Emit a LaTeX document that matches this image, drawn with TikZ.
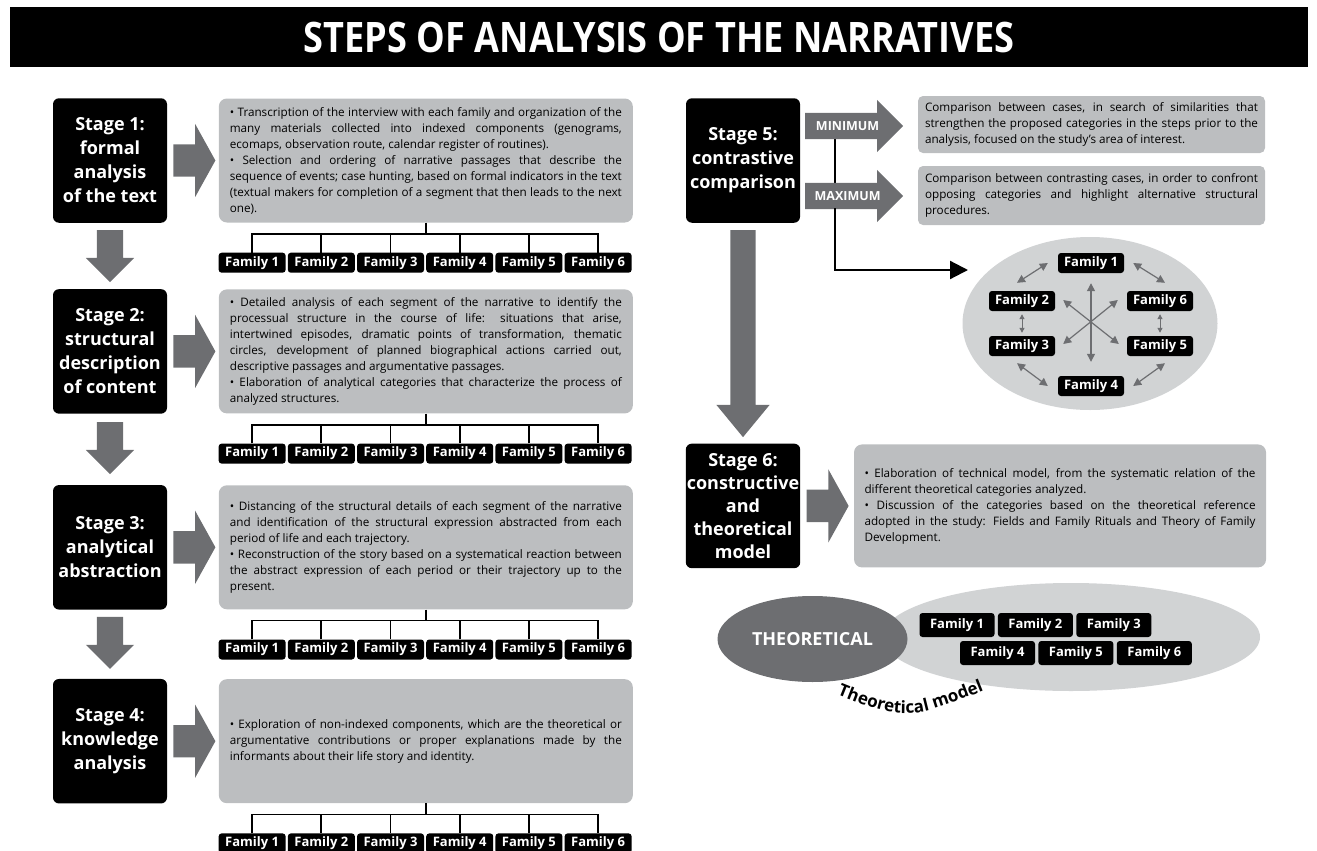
\documentclass[tikz,border=0pt]{standalone}
\usepackage{fontspec}
\setmainfont{Open Sans}
\newfontfamily\titlefont[FakeStretch=0.86]{Open Sans}
\usepackage{xcolor}
\usepackage{tikz}
\usetikzlibrary{positioning,calc,shapes.arrows,shapes.geometric,arrows.meta,decorations.text}
\setlength{\parindent}{0pt}
\hyphenpenalty=10000
\tolerance=9999
\definecolor{arrowgray}{HTML}{6D6E71}
\definecolor{boxgray}{HTML}{BCBEC0}
\definecolor{ringgray}{HTML}{D1D3D4}

\begin{document}
\begin{tikzpicture}[
        x=1pt, y=-1pt,
        every node/.style={font=\fontsize{11.7}{16}\selectfont},
        stagebox/.style={rectangle, fill=black, text=white, rounded corners=6pt, minimum width=114pt, minimum height=124.5pt, inner sep=1pt, align=center, font=\bfseries\fontsize{18}{24}\selectfont},
        textbox/.style={rectangle, fill=boxgray, rounded corners=8pt, minimum height=124pt, text width=392pt, inner xsep=11pt, align=justify},
        fam/.style={rectangle, fill=black, text=white, rounded corners=3pt, minimum width=67pt, minimum height=20pt, inner sep=0pt, font=\bfseries\fontsize{13}{13}\selectfont},
        rarrow/.style={single arrow, fill=arrowgray, inner xsep=0pt, inner ysep=16pt, minimum height=42pt, minimum width=73pt, single arrow head extend=20.5pt, single arrow tip angle=122},
        darrow/.style={single arrow, shape border rotate=270, fill=arrowgray, inner sep=13pt, minimum height=52pt, minimum width=48pt, single arrow head extend=11pt, single arrow tip angle=90},
        sidearrow/.style={single arrow, fill=arrowgray, text=white, text height=9pt, text depth=0pt, inner xsep=7pt, inner ysep=8.5pt, minimum height=98pt, minimum width=52pt, single arrow head extend=13pt, single arrow tip angle=90, font=\bfseries\fontsize{12.5}{12.5}\selectfont},
        tree/.style={line width=1.8pt},
        link/.style={line width=2.2pt, -{Triangle[length=18pt,width=18pt]}},
        famlink/.style={arrowgray, line width=1.2pt, {Triangle[length=8pt,width=8pt]}-{Triangle[length=8pt,width=8pt]}},
        shortlink/.style={arrowgray, line width=1pt, {Triangle[length=5pt,width=5pt]}-{Triangle[length=5pt,width=5pt]}}
    ]
        \useasboundingbox (0,0) rectangle (1317,851);

        % Title
        \node[fill=black, text=white, minimum width=1298pt, minimum height=60pt, font=\titlefont\bfseries\fontsize{42}{42}\selectfont] (title) at (659,37) {STEPS OF ANALYSIS OF THE NARRATIVES};

        % Stages 1-4
        \node[stagebox] (s1) at (110,160.5) {Stage 1:\\formal\\analysis\\of the text};
        \node[darrow, below=7pt of s1] (d1) {};
        \node[stagebox, below=66pt of s1] (s2) {Stage 2:\\structural\\description\\of content};
        \node[darrow, below=8pt of s2] (d2) {};
        \node[stagebox, below=71pt of s2] (s3) {Stage 3:\\analytical\\abstraction};
        \node[darrow, below=7pt of s3] (d3) {};
        \node[stagebox, below=69pt of s3] (s4) {Stage 4:\\knowledge\\analysis};

        % Descriptions
        \node[rarrow, right=6pt of s1] (a1) {};
        \node[textbox, right=3pt of a1] (c1) {\textbullet{} Transcription of the interview with each family and organization of the\linebreak many materials collected into indexed components (genograms,\linebreak ecomaps, observation route, calendar register of routines).\par
            \textbullet{} Selection and ordering of narrative passages that describe the\linebreak sequence of events; case hunting, based on formal indicators in the text\linebreak (textual makers for completion of a segment that then leads to the next\linebreak one).};
        \node[rarrow, right=6pt of s2] (a2) {};
        \node[textbox, right=3pt of a2] (c2) {\textbullet{} Detailed analysis of each segment of the narrative to identify the\linebreak processual structure in the course of life: situations that arise,\linebreak intertwined episodes, dramatic points of transformation, thematic\linebreak circles, development of planned biographical actions carried out,\linebreak descriptive passages and argumentative passages.\par
            \textbullet{} Elaboration of analytical categories that characterize the process of\linebreak analyzed structures.};
        \node[rarrow, right=6pt of s3] (a3) {};
        \node[textbox, right=3pt of a3] (c3) {\textbullet{} Distancing of the structural details of each segment of the narrative\linebreak and identification of the structural expression abstracted from each\linebreak period of life and each trajectory.\par
            \textbullet{} Reconstruction of the story based on a systematical reaction between\linebreak the abstract expression of each period or their trajectory up to the\linebreak present.};
        \node[rarrow, right=6pt of s4] (a4) {};
        \node[textbox, right=3pt of a4] (c4) {\textbullet{} Exploration of non-indexed components, which are the theoretical or\linebreak argumentative contributions or proper explanations made by the\linebreak informants about their life story and identity.};

        % Families under each description
        \foreach \s in {1,...,4} {
            \foreach \j in {1,...,6}
                \node[fam] (f\s\j) at ($(c\s.south west)+({33.5+69.2*(\j-1)},40)$) {Family \j};
            \draw[tree] (c\s.south) -- ++(0,11) coordinate (t\s);
            \draw[tree] (f\s1.north) |- (t\s) -| (f\s6.north);
            \foreach \j in {2,...,5}
                \draw[tree] (f\s\j.north) -- (f\s\j.north |- t\s);
        }

        % Stage 5
        \node[stagebox] (s5) at (743,160.5) {Stage 5:\\contrastive\\comparison};
        \node[single arrow, shape border rotate=270, fill=arrowgray, inner sep=12.5pt, minimum height=207pt, minimum width=53pt, single arrow head extend=14pt, single arrow tip angle=79, below=7pt of s5] (d5) {};
        \draw[line width=2.2pt] (835,139) -- (835,184);
        \node[sidearrow, anchor=tail] (mina) at (805,126) {MINIMUM};
        \node[sidearrow, anchor=tail] (maxa) at (805,196) {MAXIMUM};
        \node[rectangle, fill=boxgray, rounded corners=5pt, minimum width=347pt, minimum height=57pt, text width=333pt, inner xsep=7pt, align=justify] (minbox) at (1091.5,124.5) {Comparison between cases, in search of similarities that\linebreak strengthen the proposed categories in the steps prior to the\linebreak analysis, focused on the study's area of interest.};
        \node[rectangle, fill=boxgray, rounded corners=5pt, minimum width=347pt, minimum height=59pt, text width=333pt, inner xsep=7pt, align=justify] (maxbox) at (1091.5,195.5) {Comparison between contrasting cases, in order to confront\linebreak opposing categories and highlight alternative structural\linebreak procedures.};

        % Families compared
        \node[ellipse, fill=ringgray, minimum width=255pt, minimum height=173pt] (ring) at (1090,323.5) {};
        \coordinate (ringin) at (968,270);
        \draw[link] ([xshift=30pt,yshift=-12pt]maxa.tail) |- (ringin);
        \node[fam, minimum width=66pt] (e1) at (1091,263) {Family 1};
        \node[fam, minimum width=66pt] (e2) at (1022,301) {Family 2};
        \node[fam, minimum width=66pt] (e6) at (1160,301) {Family 6};
        \node[fam, minimum width=66pt] (e3) at (1022,346) {Family 3};
        \node[fam, minimum width=66pt] (e5) at (1160,346) {Family 5};
        \node[fam, minimum width=66pt] (e4) at (1091,386) {Family 4};
        \draw[famlink] ([xshift=-5pt,yshift=8pt]e2.north) -- ([xshift=-10pt]e1.west);
        \draw[famlink] ([xshift=9pt]e1.east) -- ([xshift=5pt,yshift=8pt]e6.north);
        \draw[shortlink] ([yshift=-3pt]e2.south) -- ([yshift=3pt]e3.north);
        \draw[shortlink] ([yshift=-3pt]e6.south) -- ([yshift=3pt]e5.north);
        \draw[famlink] ([xshift=-5pt,yshift=-7pt]e3.south) -- ([xshift=-10pt]e4.west);
        \draw[famlink] ([xshift=5pt,yshift=-7pt]e5.south) -- ([xshift=9pt]e4.east);
        \draw[famlink] ([yshift=-10pt]e1.south) -- ([yshift=14pt]e4.north);
        \draw[famlink] ([xshift=8pt,yshift=1pt]e2.east) -- ([xshift=-8pt,yshift=2pt]e5.west);
        \draw[famlink] ([xshift=-9pt,yshift=1pt]e6.west) -- ([xshift=8pt,yshift=2pt]e3.east);

        % Stage 6
        \node[stagebox, below=6pt of d5, font=\bfseries\fontsize{18}{23}\selectfont] (s6) {Stage 6:\\constructive\\and\\theoretical\\model};
        \node[rarrow, right=6pt of s6] (a6) {};
        \node[rectangle, fill=boxgray, rounded corners=8pt, minimum height=123pt, text width=391pt, inner xsep=10.5pt, align=justify, right=5pt of a6] (c6) {\textbullet{} Elaboration of technical model, from the systematic relation of the\linebreak different theoretical categories analyzed.\par
            \textbullet{} Discussion of the categories based on the theoretical reference\linebreak adopted in the study: Fields and Family Rituals and Theory of Family\linebreak Development.};

        % Theoretical model
        \node[ellipse, fill=ringgray, minimum width=378pt, minimum height=108pt] (model) at (1071,637) {};
        \node[ellipse, fill=arrowgray, text=white, minimum width=190pt, minimum height=86pt, font=\bfseries\fontsize{18}{18}\selectfont] (theo) at (812.5,639) {THEORETICAL};
        \node[fam, minimum width=75pt, minimum height=24pt] (g1) at (957,625) {Family 1};
        \node[fam, minimum width=75pt, minimum height=24pt, right=3pt of g1] (g2) {Family 2};
        \node[fam, minimum width=75pt, minimum height=24pt, right=3pt of g2] (g3) {Family 3};
        \node[fam, minimum width=75pt, minimum height=24pt] (g4) at (997.5,653) {Family 4};
        \node[fam, minimum width=75pt, minimum height=24pt, right=3pt of g4] (g5) {Family 5};
        \node[fam, minimum width=75pt, minimum height=24pt, right=3pt of g5] (g6) {Family 6};
        \path[decorate, decoration={text along path, text align=center, text={|\bfseries\fontsize{17}{17}\selectfont|Theoretical model}}] (826,690) .. controls (905,722) .. (995,686);

    \end{tikzpicture}
\end{document}
